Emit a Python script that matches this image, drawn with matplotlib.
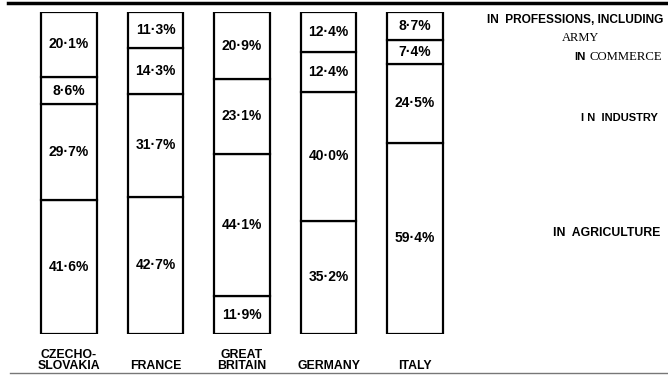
import matplotlib
matplotlib.use('Agg')
import matplotlib.pyplot as plt
from matplotlib.lines import Line2D
import numpy as np

countries = ['CZECHO-\nSLOVAKIA', 'FRANCE', 'GREAT\nBRITAIN', 'GERMANY', 'ITALY']
# shares of occupied population, in %
agriculture = [41.6, 42.7, 11.9, 35.2, 59.4]
industry = [29.7, 31.7, 44.1, 40.0, 24.5]
commerce = [8.6, 14.3, 23.1, 12.4, 7.4]
professions = [20.1, 11.3, 20.9, 12.4, 8.7]

W, H = 668, 376
fig = plt.figure(figsize=(W / 100, H / 100), dpi=100)
fig.patch.set_facecolor('white')

def fx(px):
    return px / W

def fy(py):
    return 1 - py / H

# axes: bars between y=12px (100%) and y=334px (0%)
ax = fig.add_axes([0, fy(334), 1, (334 - 12) / H])
step = 86.5
x0 = 69
x = np.arange(len(countries))
ax.set_xlim(-x0 / step, (W - x0) / step)
ax.set_ylim(0, 100)
ax.axis('off')

series = [agriculture, industry, commerce, professions]
bottom = np.zeros(len(countries))
for vals in series:
    vals = np.array(vals)
    ax.bar(x, vals, bottom=bottom, width=0.64, color='white',
           edgecolor='black', linewidth=1.6)
    for xi, b, v in zip(x, bottom, vals):
        ax.text(xi, b + v / 2, f'{v:.1f}%'.replace('.', '·'),
                ha='center', va='center', fontsize=10, fontweight='bold',
                family='Liberation Sans', color='black')
    bottom += vals

# country names under the bars
for xi, name in zip(x, countries):
    px = x0 + step * xi
    fig.text(fx(px), fy(372), name, ha='center', va='bottom', fontsize=8.8,
             fontweight='bold', family='Liberation Sans', linespacing=0.9)

# labels on the right
bold = dict(fontweight='bold', family='Liberation Sans', color='black')
fig.text(fx(663), fy(20), 'IN  PROFESSIONS, INCLUDING', ha='right', va='center',
         fontsize=8.6, **bold)
fig.text(fx(580), fy(38), 'ARMY', ha='center', va='center', fontsize=9,
         family='Liberation Serif')
fig.text(fx(662), fy(57), 'COMMERCE', ha='right', va='center', fontsize=9.2,
         family='Liberation Serif')
fig.text(fx(586), fy(57), 'IN', ha='right', va='center', fontsize=8.2, **bold)
fig.text(fx(658), fy(118), 'I N  INDUSTRY', ha='right', va='center',
         fontsize=8, **bold)
fig.text(fx(660), fy(233), 'IN  AGRICULTURE', ha='right', va='center',
         fontsize=8.8, **bold)

# rules at top and bottom
fig.add_artist(Line2D([fx(8), 1], [fy(3), fy(3)], color='black', linewidth=2.5))
fig.add_artist(Line2D([fx(10), 1], [fy(373), fy(373)], color='#777777', linewidth=1))

fig.savefig('out.png', dpi=100)
